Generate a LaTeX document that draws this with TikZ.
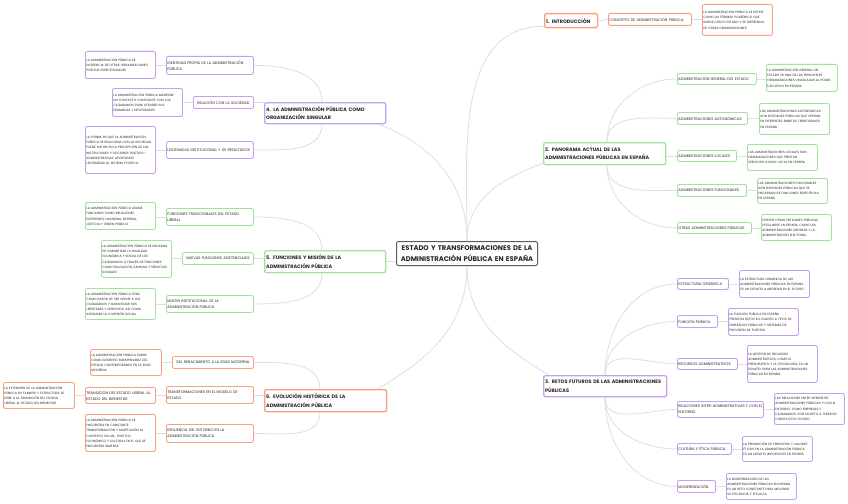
\documentclass[tikz,border=0pt]{standalone}
\usepackage{fontspec}
\setmainfont{Poppins}
\definecolor{orangeline}{HTML}{FA9F7E}
\definecolor{greenline}{HTML}{A2E29E}
\definecolor{purpleline}{HTML}{C59DF5}
\definecolor{hubline}{HTML}{5C5C5C}
\definecolor{linkgray}{HTML}{DEDEDE}
\definecolor{inkdark}{HTML}{262626}
\hyphenpenalty=10000
\exhyphenpenalty=10000

\begin{document}
\begin{tikzpicture}[x=1pt, y=-1pt,
  hub/.style={draw=hubline, line width=1pt, rounded corners=2pt, fill=white, align=center, font=\fontsize{6.8}{10.8}\selectfont\bfseries, text=inkdark, inner xsep=1pt, inner ysep=1pt, anchor=north west},
  topic/.style={draw=#1, line width=1.3pt, rounded corners=2pt, fill=white, align=left, font=\fontsize{4.9}{8.4}\selectfont\bfseries, text=inkdark, inner xsep=1.5pt, inner ysep=1pt, anchor=north west},
  sub/.style={draw=#1, line width=0.9pt, rounded corners=2pt, fill=white, align=left, font=\fontsize{3.7}{6}\selectfont, text=inkdark, inner xsep=1pt, inner ysep=1pt, anchor=north west},
  leaf/.style={draw=#1, line width=0.9pt, rounded corners=2pt, fill=white, align=left, font=\fontsize{3.15}{5.2}\selectfont, text=inkdark, inner xsep=1pt, inner ysep=1pt, anchor=north west},
  link/.style={draw=linkgray, line width=0.8pt},
]
  \fill[white] (0,0) rectangle (848,503);
  \useasboundingbox (0,0) rectangle (848,503);

  \node[hub, text width=139pt, minimum height=24pt] (hub) at (396,241) {ESTADO Y TRANSFORMACIONES DE LA\\ADMINISTRACIÓN PÚBLICA EN ESPAÑA};

  \node[topic=orangeline, text width=50pt, minimum height=14pt] (intro) at (544,13) {1. INTRODUCCIÓN};
  \node[sub=orangeline, text width=81pt, minimum height=12pt] (concepto) at (608,13) {CONCEPTO DE ADMINISTRACIÓN PÚBLICA};
  \node[leaf=orangeline, text width=68pt, minimum height=31pt] (conceptodesc) at (702,4) {LA ADMINISTRACIÓN PÚBLICA SE DEFINE\\COMO UN TÉRMINO POLIÉDRICO QUE\\SURGE CON EL ESTADO Y SE DIFERENCIA\\DE OTRAS ORGANIZACIONES};

  \node[topic=greenline, text width=119pt, minimum height=22pt] (panorama) at (543,142) {2. PANORAMA ACTUAL DE LAS\\ADMINISTRACIONES PÚBLICAS EN ESPAÑA};
  \node[sub=greenline, text width=77pt, minimum height=11pt] (age) at (677,73) {ADMINISTRACIÓN GENERAL DEL ESTADO};
  \node[leaf=greenline, text width=69pt, minimum height=27pt] (agedesc) at (766,64) {LA ADMINISTRACIÓN GENERAL DEL\\ESTADO ES UNA DE LAS PRINCIPALES\\ORGANIZACIONES VINCULADAS AL PODER\\EJECUTIVO EN ESPAÑA};
  \node[sub=greenline, text width=68pt, minimum height=12pt] (auton) at (677,112) {ADMINISTRACIONES AUTONÓMICAS};
  \node[leaf=greenline, text width=68pt, minimum height=31pt] (autondesc) at (759,103) {LAS ADMINISTRACIONES AUTONÓMICAS\\SON ENTIDADES PÚBLICAS QUE OPERAN\\EN DIFERENTES ÁMBITOS TERRITORIALES\\EN ESPAÑA};
  \node[sub=greenline, text width=57pt, minimum height=11pt] (locales) at (677,150) {ADMINISTRACIONES LOCALES};
  \node[leaf=greenline, text width=68pt, minimum height=26pt] (localesdesc) at (747,144) {LAS ADMINISTRACIONES LOCALES SON\\ORGANIZACIONES QUE PRESTAN\\SERVICIOS A NIVEL LOCAL EN ESPAÑA};
  \node[sub=greenline, text width=67pt, minimum height=12pt] (funcionales) at (677,184) {ADMINISTRACIONES FUNCIONALES};
  \node[leaf=greenline, text width=68pt, minimum height=25pt] (funcionalesdesc) at (757,178) {LAS ADMINISTRACIONES FUNCIONALES\\SON ENTIDADES PÚBLICAS QUE SE\\ENCARGAN DE FUNCIONES ESPECÍFICAS\\EN ESPAÑA};
  \node[sub=greenline, text width=72pt, minimum height=11pt] (otras) at (677,222) {OTRAS ADMINISTRACIONES PÚBLICAS};
  \node[leaf=greenline, text width=68pt, minimum height=26pt] (otrasdesc) at (761,214) {EXISTEN OTRAS ENTIDADES PÚBLICAS\\PECULIARES EN ESPAÑA, COMO LAS\\ADMINISTRACIONES MEDIALES Y LA\\ADMINISTRACIÓN ELECTORAL};

  \node[topic=purpleline, text width=120pt, minimum height=21pt] (retos) at (543,375) {3. RETOS FUTUROS DE LAS ADMINISTRACIONES\\PÚBLICAS};
  \node[sub=purpleline, text width=49pt, minimum height=11pt] (estructura) at (677,278) {ESTRUCTURA ORGÁNICA};
  \node[leaf=purpleline, text width=68pt, minimum height=27pt] (estructuradesc) at (739,270) {LA ESTRUCTURA ORGÁNICA DE LAS\\ADMINISTRACIONES PÚBLICAS EN ESPAÑA\\ES UN DESAFÍO A ABORDAR EN EL FUTURO};
  \node[sub=purpleline, text width=38pt, minimum height=12pt] (funcion) at (677,315) {FUNCIÓN PÚBLICA};
  \node[leaf=purpleline, text width=68pt, minimum height=27pt] (funciondesc) at (728,308) {LA FUNCIÓN PÚBLICA EN ESPAÑA\\PRESENTA RETOS EN CUANTO A TIPOS DE\\EMPLEADOS PÚBLICOS Y SISTEMAS DE\\PROVISIÓN DE PUESTOS};
  \node[sub=purpleline, text width=58pt, minimum height=11pt] (recursos) at (677,358) {RECURSOS ADMINISTRATIVOS};
  \node[leaf=purpleline, text width=68pt, minimum height=37pt] (recursosdesc) at (747,345) {LA GESTIÓN DE RECURSOS\\ADMINISTRATIVOS, COMO EL\\PRESUPUESTO Y LA TECNOLOGÍA, ES UN\\DESAFÍO PARA LAS ADMINISTRACIONES\\PÚBLICAS EN ESPAÑA};
  \node[sub=purpleline, text width=84pt, minimum height=16pt] (relaciones) at (677,401) {RELACIONES INTER-ADMINISTRATIVAS Y CON EL\\ENTORNO};
  \node[leaf=purpleline, text width=68pt, minimum height=31pt] (relacionesdesc) at (774,393) {LAS RELACIONES ENTRE DIFERENTES\\ADMINISTRACIONES PÚBLICAS Y CON EL\\ENTORNO, COMO EMPRESAS Y\\CIUDADANOS, SON UN RETO A TENER EN\\CUENTA EN EL FUTURO};
  \node[sub=purpleline, text width=52pt, minimum height=11pt] (cultura) at (677,443) {CULTURA Y ÉTICA PÚBLICA};
  \node[leaf=purpleline, text width=68pt, minimum height=25pt] (culturadesc) at (742,436) {LA PROMOCIÓN DE PRINCIPIOS Y VALORES\\ÉTICOS EN LA ADMINISTRACIÓN PÚBLICA\\ES UN DESAFÍO IMPORTANTE EN ESPAÑA};
  \node[sub=purpleline, text width=36pt, minimum height=12pt] (modern) at (677,480) {MODERNIZACIÓN};
  \node[leaf=purpleline, text width=68pt, minimum height=26pt] (moderndesc) at (726,473) {LA MODERNIZACIÓN DE LAS\\ADMINISTRACIONES PÚBLICAS EN ESPAÑA\\ES UN RETO CONSTANTE PARA MEJORAR\\SU EFICIENCIA Y EFICACIA};

  \node[topic=purpleline, text width=118pt, minimum height=21pt] (singular) at (264,102) {4. LA ADMINISTRACIÓN PÚBLICA COMO\\ORGANIZACIÓN SINGULAR};
  \node[sub=purpleline, text width=85pt, minimum height=18pt] (identidad) at (166,56) {IDENTIDAD PROPIA DE LA ADMINISTRACIÓN\\PÚBLICA};
  \node[leaf=purpleline, text width=68pt, minimum height=27pt] (identidaddesc) at (85,51) {LA ADMINISTRACIÓN PÚBLICA SE\\DIFERENCIA DE OTRAS ORGANIZACIONES\\POR SUS ESPECIFICIDADES};
  \node[sub=purpleline, text width=58pt, minimum height=12pt, align=center] (relacion) at (193,96) {RELACIÓN CON LA SOCIEDAD};
  \node[leaf=purpleline, text width=68pt, minimum height=28pt] (relaciondesc) at (112,88) {LA ADMINISTRACIÓN PÚBLICA MANTIENE\\UN CONTACTO CONSTANTE CON LOS\\CIUDADANOS PARA ATENDER SUS\\DEMANDAS Y NECESIDADES};
  \node[sub=purpleline, text width=85pt, minimum height=17pt] (legitimidad) at (166,141) {LEGITIMIDAD INSTITUCIONAL Y DE RESULTADOS};
  \node[leaf=purpleline, text width=68pt, minimum height=47pt] (legitimidaddesc) at (85,126) {LA FORMA EN QUE LA ADMINISTRACIÓN\\PÚBLICA SE RELACIONA CON LA SOCIEDAD\\PUEDE INFLUIR EN LA PERCEPCIÓN DE LAS\\INSTITUCIONES Y ACCIONES POLÍTICO-\\ADMINISTRATIVAS, APORTANDO\\LEGITIMIDAD AL SISTEMA POLÍTICO};

  \node[topic=greenline, text width=118pt, minimum height=22pt] (funciones) at (264,250) {5. FUNCIONES Y MISIÓN DE LA\\ADMINISTRACIÓN PÚBLICA};
  \node[sub=greenline, text width=85pt, minimum height=17pt] (tradicionales) at (166,208) {FUNCIONES TRADICIONALES DEL ESTADO\\LIBERAL};
  \node[leaf=greenline, text width=68pt, minimum height=27pt] (tradicionalesdesc) at (85,202) {LA ADMINISTRACIÓN PÚBLICA ASUME\\FUNCIONES COMO RELACIONES\\EXTERIORES, HACIENDA, DEFENSA,\\JUSTICIA Y ORDEN PÚBLICO};
  \node[sub=greenline, text width=69pt, minimum height=12pt, align=center] (nuevas) at (182,252) {NUEVAS FUNCIONES ASISTENCIALES};
  \node[leaf=greenline, text width=68pt, minimum height=37pt] (nuevasdesc) at (101,240) {LA ADMINISTRACIÓN PÚBLICA SE ENCARGA\\DE GARANTIZAR LA IGUALDAD\\ECONÓMICA Y SOCIAL DE LOS\\CIUDADANOS A TRAVÉS DE FUNCIONES\\COMO EDUCACIÓN, SANIDAD Y SERVICIOS\\SOCIALES};
  \node[sub=greenline, text width=85pt, minimum height=17pt] (mision) at (166,295) {MISIÓN INSTITUCIONAL DE LA\\ADMINISTRACIÓN PÚBLICA};
  \node[leaf=greenline, text width=68pt, minimum height=31pt] (misiondesc) at (85,288) {LA ADMINISTRACIÓN PÚBLICA TIENE\\COMO RAZÓN DE SER SERVIR A LOS\\CIUDADANOS Y GARANTIZAR SUS\\LIBERTADES Y DERECHOS, ASÍ COMO\\ASEGURAR LA COHESIÓN SOCIAL};

  \node[topic=orangeline, text width=119pt, minimum height=22pt] (evolucion) at (264,389) {6. EVOLUCIÓN HISTÓRICA DE LA\\ADMINISTRACIÓN PÚBLICA};
  \node[sub=orangeline, text width=79pt, minimum height=12pt, align=center] (renacimiento) at (172,356) {DEL RENACIMIENTO A LA EDAD MODERNA};
  \node[leaf=orangeline, text width=69pt, minimum height=26pt] (renacimientodesc) at (90,349) {LA ADMINISTRACIÓN PÚBLICA SURGE\\COMO ELEMENTO INDISPENSABLE DEL\\ESTADO CONTEMPORÁNEO EN LA EDAD\\MODERNA};
  \node[sub=orangeline, text width=85pt, minimum height=17pt] (modelo) at (166,386) {TRANSFORMACIONES EN EL MODELO DE\\ESTADO};
  \node[sub=orangeline, text width=68pt, minimum height=16pt] (transicion) at (85,387) {TRANSICIÓN DEL ESTADO LIBERAL AL\\ESTADO DEL BIENESTAR};
  \node[leaf=orangeline, text width=69pt, minimum height=26pt] (transiciondesc) at (3,382) {LA EXTENSIÓN DE LA ADMINISTRACIÓN\\PÚBLICA EN TAMAÑO Y ESTRUCTURA SE\\DEBE A LA TRANSICIÓN DEL ESTADO\\LIBERAL AL ESTADO DEL BIENESTAR};
  \node[sub=orangeline, text width=85pt, minimum height=18pt] (influencia) at (166,424) {INFLUENCIA DEL ENTORNO EN LA\\ADMINISTRACIÓN PÚBLICA};
  \node[leaf=orangeline, text width=68pt, minimum height=37pt] (influenciadesc) at (85,414) {LA ADMINISTRACIÓN PÚBLICA SE\\ENCUENTRA EN CONSTANTE\\TRANSFORMACIÓN Y ADAPTACIÓN AL\\CONTEXTO SOCIAL, POLÍTICO,\\ECONÓMICO Y CULTURAL EN EL QUE SE\\ENCUENTRA INMERSA};

  \draw[link] (hub.north) to[out=90, in=180] ([yshift=2pt]intro.south west);
  \draw[link] (hub.north) to[out=90, in=200] ([yshift=2pt]panorama.south west);
  \draw[link] (hub.north) to[out=90, in=-20] ([xshift=-8pt]singular.south east);
  \draw[link] (hub.south) to[out=-90, in=150] ([xshift=6pt]retos.north west);
  \draw[link] (hub.south) to[out=-90, in=30] ([xshift=-10pt]evolucion.north east);
  \draw[link] (funciones.east) -- (funciones.east -| hub.west);

  \draw[link] (intro.east) -- (concepto.west);
  \draw[link] (concepto.east) -- (concepto.east -| conceptodesc.west);

  \draw[link] ([xshift=64pt]panorama.north west) to[out=90, in=180] (age.west);
  \draw[link] ([xshift=64pt]panorama.north west) to[out=90, in=180] (auton.west);
  \draw[link] (locales.west -| panorama.east) -- (locales.west);
  \draw[link] ([xshift=64pt]panorama.south west) to[out=-90, in=180] (funcionales.west);
  \draw[link] ([xshift=64pt]panorama.south west) to[out=-90, in=180] (otras.west);
  \draw[link] (age.east) -- (age.east -| agedesc.west);
  \draw[link] (auton.east) -- (auton.east -| autondesc.west);
  \draw[link] (locales.east) -- (locales.east -| localesdesc.west);
  \draw[link] (funcionales.east) -- (funcionales.east -| funcionalesdesc.west);
  \draw[link] (otras.east) -- (otras.east -| otrasdesc.west);

  \draw[link] ([xshift=62pt]retos.north west) to[out=90, in=180] (estructura.west);
  \draw[link] ([xshift=62pt]retos.north west) to[out=90, in=180] (funcion.west);
  \draw[link] ([xshift=62pt]retos.north west) to[out=90, in=180] (recursos.west);
  \draw[link] ([xshift=62pt]retos.south west) to[out=-90, in=180] (relaciones.west);
  \draw[link] ([xshift=62pt]retos.south west) to[out=-90, in=180] (cultura.west);
  \draw[link] ([xshift=62pt]retos.south west) to[out=-90, in=180] (modern.west);
  \draw[link] (estructura.east) -- (estructura.east -| estructuradesc.west);
  \draw[link] (funcion.east) -- (funcion.east -| funciondesc.west);
  \draw[link] (recursos.east) -- (recursos.east -| recursosdesc.west);
  \draw[link] (relaciones.east) -- (relaciones.east -| relacionesdesc.west);
  \draw[link] (cultura.east) -- (cultura.east -| culturadesc.west);
  \draw[link] (modern.east) -- (modern.east -| moderndesc.west);

  \draw[link] ([xshift=58pt]singular.north west) to[out=90, in=0] (identidad.east);
  \draw[link] (relacion.east) -- (relacion.east -| singular.west);
  \draw[link] ([xshift=58pt]singular.south west) to[out=-90, in=0] (legitimidad.east);
  \draw[link] (identidad.west) -- (identidad.west -| identidaddesc.east);
  \draw[link] (relacion.west) -- (relacion.west -| relaciondesc.east);
  \draw[link] (legitimidad.west) -- (legitimidad.west -| legitimidaddesc.east);

  \draw[link] ([xshift=58pt]funciones.north west) to[out=90, in=0] (tradicionales.east);
  \draw[link] (nuevas.east) -- (nuevas.east -| funciones.west);
  \draw[link] ([xshift=58pt]funciones.south west) to[out=-90, in=0] (mision.east);
  \draw[link] (tradicionales.west) -- (tradicionales.west -| tradicionalesdesc.east);
  \draw[link] (nuevas.west) -- (nuevas.west -| nuevasdesc.east);
  \draw[link] (mision.west) -- (mision.west -| misiondesc.east);

  \draw[link] ([xshift=56pt]evolucion.north west) to[out=90, in=0] (renacimiento.east);
  \draw[link] (modelo.east) -- (modelo.east -| evolucion.west);
  \draw[link] ([xshift=56pt]evolucion.south west) to[out=-90, in=0] (influencia.east);
  \draw[link] (renacimiento.west) -- (renacimiento.west -| renacimientodesc.east);
  \draw[link] (modelo.west) -- (modelo.west -| transicion.east);
  \draw[link] (transicion.west) -- (transicion.west -| transiciondesc.east);
  \draw[link] (influencia.west) -- (influencia.west -| influenciadesc.east);
\end{tikzpicture}
\end{document}
